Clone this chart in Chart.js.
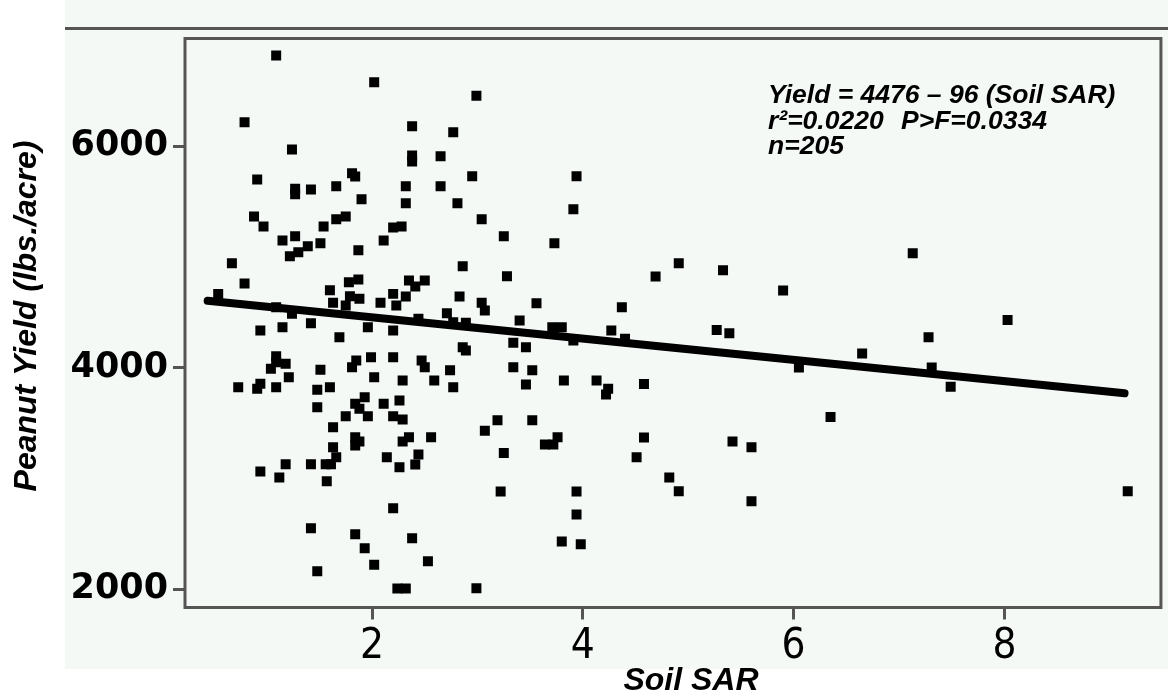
<!DOCTYPE html>
<html>
<head>
<meta charset="utf-8">
<title>Peanut yield vs soil SAR</title>
<script src="https://cdn.jsdelivr.net/npm/chart.js@4.4.1/dist/chart.umd.min.js"></script>
<style>
  html, body { margin: 0; padding: 0; background: #fff; }
  #wrap { width: 1168px; height: 698px; }
</style>
</head>
<body>
<div id="wrap"><canvas id="chart" width="1168" height="698"></canvas></div>
<script>
// Soil SAR (x) and peanut yield in lbs./acre (y)
const soilSar = [
  1.09, 2.02, 0.79, 1.24, 0.91, 1.27, 1.27, 1.42, 1.66, 1.81,
  1.84, 1.90, 0.88, 0.97, 1.54, 1.66, 1.75, 2.20, 2.28, 1.15,
  1.27, 1.39, 1.22, 1.30, 1.51, 1.87, 2.11, 0.67, 0.79, 0.54,
  1.60, 1.78, 1.87, 1.79, 1.88, 1.75, 1.63, 2.08, 2.20, 2.23,
  1.09, 1.24, 1.96, 0.94, 1.15, 1.42, 2.20, 1.69, 1.09, 1.09,
  1.18, 1.04, 1.21, 0.73, 0.94, 0.91, 1.09, 1.51, 1.48, 1.60,
  1.48, 1.85, 1.99, 1.81, 2.20, 2.02, 1.93, 1.84, 1.88, 2.11,
  1.75, 1.96, 2.20, 1.63, 1.84, 1.88, 1.84, 1.63, 1.66, 2.14,
  0.94, 1.18, 1.12, 1.42, 1.56, 1.61, 1.57, 2.20, 1.42, 1.84,
  1.93, 2.02, 1.48, 2.24, 2.32, 2.99, 2.38, 2.77, 2.38, 2.38,
  2.65, 2.95, 3.94, 2.32, 2.65, 2.32, 2.81, 3.91, 3.04, 3.25,
  3.73, 2.86, 3.28, 2.35, 2.50, 2.41, 2.32, 2.83, 3.04, 3.07,
  3.56, 2.71, 2.44, 2.77, 2.89, 3.40, 3.71, 3.80, 3.91, 4.27,
  2.86, 2.89, 3.34, 3.46, 2.47, 2.50, 2.74, 3.34, 3.52, 2.29,
  2.59, 2.77, 3.46, 3.82, 4.13, 4.24, 4.22, 2.26, 2.29, 3.19,
  3.52, 3.07, 2.35, 2.29, 2.56, 3.76, 3.64, 3.72, 3.25, 2.44,
  2.41, 2.26, 3.22, 3.94, 3.94, 2.38, 3.80, 3.98, 2.53, 2.99,
  4.91, 4.69, 5.33, 5.90, 4.37, 4.40, 5.27, 5.39, 6.65, 6.05,
  4.58, 6.35, 4.58, 5.42, 5.60, 4.51, 4.82, 4.91, 5.60, 7.13,
  8.03, 7.28, 7.31, 7.49, 9.17
];
const peanutYield = [
  6817, 6576, 6215, 5969, 5698, 5614, 5565, 5607, 5637, 5755,
  5725, 5520, 5364, 5273, 5273, 5339, 5364, 5264, 5273, 5147,
  5186, 5095, 5005, 5041, 5122, 5059, 5147, 4942, 4759, 4665,
  4698, 4770, 4795, 4644, 4620, 4560, 4584, 4584, 4665, 4560,
  4545, 4485, 4364, 4334, 4364, 4400, 4334, 4274, 4102, 4048,
  4033, 3988, 3912, 3822, 3853, 3808, 3822, 3979, 3799, 3822,
  3642, 4063, 4093, 4003, 4093, 3912, 3732, 3672, 3627, 3672,
  3560, 3560, 3560, 3461, 3371, 3332, 3296, 3280, 3190, 3190,
  3061, 3127, 3007, 3127, 3127, 3127, 2973, 2729, 2549, 2495,
  2368, 2218, 2161, 2004, 2004, 6453, 6179, 6125, 5914, 5860,
  5908, 5727, 5727, 5637, 5637, 5484, 5484, 5429, 5339, 5186,
  5122, 4915, 4824, 4786, 4786, 4731, 4641, 4641, 4584, 4515,
  4581, 4490, 4440, 4409, 4404, 4424, 4364, 4364, 4244, 4334,
  4183, 4154, 4223, 4183, 4063, 4003, 3976, 4003, 3976, 3883,
  3883, 3822, 3846, 3883, 3883, 3808, 3756, 3702, 3530, 3524,
  3524, 3428, 3371, 3332, 3371, 3371, 3305, 3305, 3229, 3214,
  3124, 3100, 2880, 2880, 2673, 2459, 2429, 2405, 2251, 2007,
  4942, 4823, 4879, 4696, 4545, 4259, 4339, 4309, 4127, 4001,
  3852, 3554, 3369, 3333, 3279, 3190, 3008, 2882, 2793, 5031,
  4428, 4273, 4001, 3826, 2882
];

// fitted line as drawn (end points)
const fitX = [0.44, 9.14];
const fitY = [4602, 3767];

const xTicks = [2, 4, 6, 8];
const yTicks = [2000, 4000, 6000];
const xRange = [0.225, 9.485];
const yRange = [1833, 6971];

const noteLines = ['Yield = 4476 \u2013 96 (Soil SAR)', 'r\u00b2=0.0220', 'P>F=0.0334', 'n=205'];

const MINT = '#f4f9f6';
const FRAME = '#555555';
const titleFont = 'italic bold 32px "Liberation Sans", Arial, sans-serif';

// background panel, top rule, plot frame and the text bits
const framePlugin = {
  id: 'frame',
  beforeDraw(chart) {
    const ctx = chart.ctx;
    ctx.save();
    ctx.fillStyle = MINT;
    ctx.fillRect(65, 0, chart.width - 65, 669);
    ctx.fillStyle = FRAME;
    ctx.fillRect(65, 27, chart.width - 65, 3);
    ctx.restore();
  },
  afterDraw(chart) {
    const ctx = chart.ctx;
    const a = chart.chartArea;
    ctx.save();
    ctx.strokeStyle = FRAME;
    ctx.lineWidth = 3;
    ctx.strokeRect(a.left, a.top, a.right - a.left, a.bottom - a.top);

    ctx.fillStyle = '#000';
    ctx.font = 'italic bold 26.5px "Liberation Sans", Arial, sans-serif';
    ctx.textAlign = 'left';
    ctx.textBaseline = 'alphabetic';
    ctx.fillText(noteLines[0], 768, 103);
    ctx.fillText(noteLines[1], 768, 129);
    ctx.fillText(noteLines[2], 901, 129);
    ctx.fillText(noteLines[3], 768, 154);

    // axis titles
    ctx.font = titleFont;
    ctx.textAlign = 'center';
    ctx.textBaseline = 'middle';
    ctx.fillText('Soil SAR', 691, 681);
    ctx.translate(27, 316);
    ctx.rotate(-Math.PI / 2);
    ctx.fillText('Peanut Yield (lbs./acre)', 0, 0);
    ctx.restore();
  }
};

new Chart(document.getElementById('chart'), {
  data: {
    datasets: [
      {
        type: 'line',
        data: fitX.map((x, i) => ({ x: x, y: fitY[i] })),
        borderColor: '#000',
        borderWidth: 8,
        borderCapStyle: 'round',
        pointRadius: 0,
        fill: false
      },
      {
        type: 'scatter',
        data: soilSar.map((x, i) => ({ x: x, y: peanutYield[i] })),
        pointStyle: 'rect',
        pointRadius: 7.07,
        backgroundColor: '#000',
        borderWidth: 0
      }
    ]
  },
  options: {
    responsive: false,
    animation: false,
    devicePixelRatio: 1,
    layout: { padding: { top: 38.5, right: 4, bottom: 0, left: 0 } },
    plugins: { legend: { display: false }, tooltip: { enabled: false } },
    scales: {
      x: {
        type: 'linear',
        min: xRange[0],
        max: xRange[1],
        afterBuildTicks: s => { s.ticks = xTicks.map(v => ({ value: v })); },
        afterFit: s => { s.height = 90.5; },
        border: { display: false },
        grid: { drawOnChartArea: false, drawTicks: true, tickLength: 12, tickColor: FRAME, tickWidth: 3 },
        ticks: {
          color: '#000',
          padding: 2,
          maxRotation: 0,
          autoSkip: false,
          font: { family: '"Liberation Sans Narrow", "DejaVu Sans Condensed", sans-serif', size: 42 },
          callback: v => String(v)
        }
      },
      y: {
        type: 'linear',
        min: yRange[0],
        max: yRange[1],
        afterBuildTicks: s => { s.ticks = yTicks.map(v => ({ value: v })); },
        afterFit: s => { s.width = 185; },
        border: { display: false },
        grid: { drawOnChartArea: false, drawTicks: true, tickLength: 12, tickColor: FRAME, tickWidth: 3 },
        ticks: {
          color: '#000',
          padding: 5,
          font: { family: '"DejaVu Sans", sans-serif', size: 35, weight: 'bold' },
          callback: v => String(v)
        }
      }
    }
  },
  plugins: [framePlugin]
});
</script>
</body>
</html>
